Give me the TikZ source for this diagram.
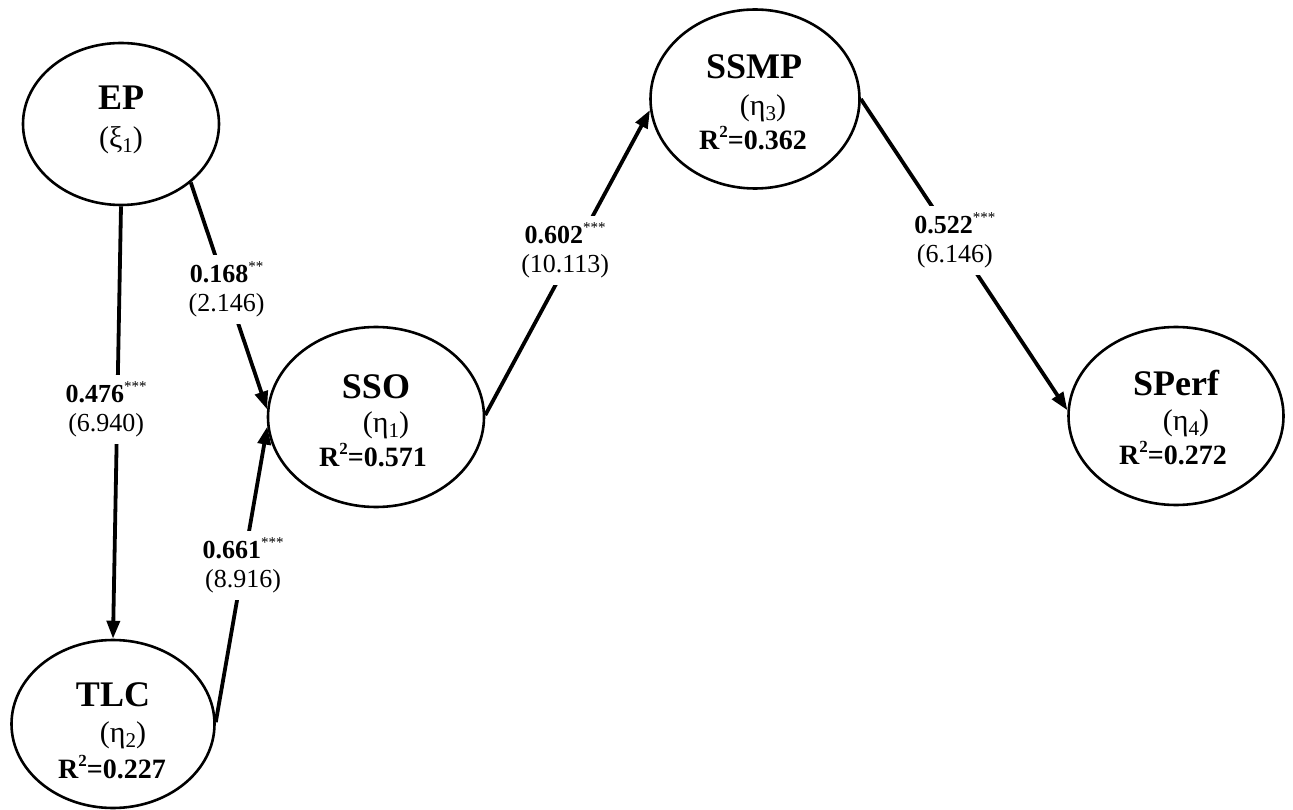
\documentclass[tikz,border=0pt]{standalone}
\usepackage{fontspec}
\setmainfont{Liberation Serif}
\usetikzlibrary{arrows.meta,shapes.geometric}
% small raised / lowered indices in fixed sizes
\newcommand{\sigstars}[1]{\raisebox{0.42em}{\fontsize{15}{15}\selectfont\mdseries #1}}
\newcommand{\rsq}[1]{R\raisebox{0.40em}{\fontsize{17}{17}\selectfont 2}=#1}
\newcommand{\lowidx}[1]{\raisebox{-0.18em}{\fontsize{21}{21}\selectfont #1}}
\begin{document}
\begin{tikzpicture}[x=1pt,y=-1pt,
  latent/.style={draw, ellipse, line width=2.6pt, inner sep=0pt},
  pathline/.style={line width=3.8pt, -{Triangle[length=18pt,width=13pt]}},
  nametext/.style={inner sep=0pt, font=\fontsize{36}{36}\selectfont\bfseries},
  greektext/.style={inner sep=0pt, font=\fontsize{30}{30}\selectfont},
  rtext/.style={inner sep=0pt, font=\fontsize{28}{28}\selectfont\bfseries},
  coef/.style={fill=white, align=center, inner xsep=2pt, inner ysep=7pt,
    font=\fontsize{26}{29}\selectfont}
]
\useasboundingbox (0,0) rectangle (1293,810);

% latent constructs
\node[latent, minimum width=196pt, minimum height=162pt] (ep)    at (121,124)  {};
\node[latent, minimum width=203pt, minimum height=168pt] (tlc)   at (113,724)  {};
\node[latent, minimum width=216pt, minimum height=180pt] (sso)   at (376,417)  {};
\node[latent, minimum width=209pt, minimum height=179pt] (ssmp)  at (755,99)   {};
\node[latent, minimum width=215pt, minimum height=178pt] (sperf) at (1176,416) {};

% texts inside the constructs
\node[nametext]  (ep-name)    at (121,98)  {EP};
\node[greektext] (ep-greek)   at (121,140) {(ξ\lowidx{1})};

\node[nametext]  (tlc-name)   at (113,695) {TLC};
\node[greektext] (tlc-greek)  at (123,735) {(η\lowidx{2})};
\node[rtext]     (tlc-r)      at (112,767) {\rsq{0.227}};

\node[nametext]  (sso-name)   at (376,387) {SSO};
\node[greektext] (sso-greek)  at (386,425) {(η\lowidx{1})};
\node[rtext]     (sso-r)      at (373,455) {\rsq{0.571}};

\node[nametext]  (ssmp-name)  at (754,67)  {SSMP};
\node[greektext] (ssmp-greek) at (763,108) {(η\lowidx{3})};
\node[rtext]     (ssmp-r)     at (753,138) {\rsq{0.362}};

\node[nametext]  (sperf-name)  at (1176,383) {SPerf};
\node[greektext] (sperf-greek) at (1186,423) {(η\lowidx{4})};
\node[rtext]     (sperf-r)     at (1173,453) {\rsq{0.272}};

% structural paths with coefficients and t-values
\draw[pathline] (ep.-90) -- node[coef, pos=0.47, xshift=-11pt] (c1)
  {\textbf{0.476}\sigstars{***}\\(6.940)} (tlc.90);
\draw[pathline] (ep.-40) -- node[coef, pos=0.47] (c2)
  {\textbf{0.168}\sigstars{**}\\(2.146)} (sso.176);
\draw[pathline] (tlc.1) -- node[coef, pos=0.53] (c3)
  {\textbf{0.661}\sigstars{***}\\(8.916)} (sso.185);
\draw[pathline] (sso.1) -- node[coef, pos=0.54, xshift=-9pt] (c4)
  {\textbf{0.602}\sigstars{***}\\(10.113)} (ssmp.186);
\draw[pathline] (ssmp.0) -- node[coef, pos=0.455] (c5)
  {\textbf{0.522}\sigstars{***}\\(6.146)} (sperf.177);
\end{tikzpicture}
\end{document}
